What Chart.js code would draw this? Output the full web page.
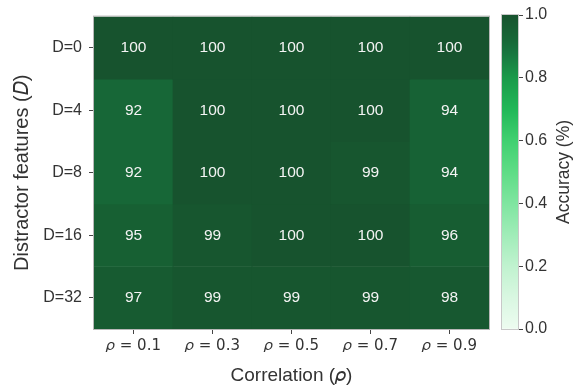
<!DOCTYPE html>
<html>
<head>
<meta charset="utf-8">
<script src="https://cdn.jsdelivr.net/npm/chart.js@4.4.1/dist/chart.umd.min.js"></script>
<style>
  html, body { margin: 0; padding: 0; background: #fff; }
  #wrap { position: relative; width: 582px; height: 389px; }
  #heat { position: absolute; left: 0; top: 0; }
  #bar { position: absolute; left: 495px; top: 0; }
</style>
</head>
<body>
<div id="wrap">
  <canvas id="heat" width="495" height="389"></canvas>
  <canvas id="bar" width="87" height="389"></canvas>
</div>
<script>
// Data
const rhoLabels = ['\u{1D70C} = 0.1', '\u{1D70C} = 0.3', '\u{1D70C} = 0.5', '\u{1D70C} = 0.7', '\u{1D70C} = 0.9'];
const dLabels = ['D=0', 'D=4', 'D=8', 'D=16', 'D=32'];
const accD0 = [100, 100, 100, 100, 100];
const accD4 = [92, 100, 100, 100, 94];
const accD8 = [92, 100, 100, 99, 94];
const accD16 = [95, 99, 100, 100, 96];
const accD32 = [97, 99, 99, 99, 98];
const rows = [accD0, accD4, accD8, accD16, accD32];
const cbarTicks = [0, 0.2, 0.4, 0.6, 0.8, 1.0];

// colour map (0..1)
const cmapPos = [0, 0.1, 0.2, 0.3, 0.4, 0.5, 0.6, 0.7, 0.8, 0.88, 0.92, 0.96, 1.0];
const cmapCol = ['#edfcf0', '#d9f7e1', '#c0f2cf', '#a0ecb8', '#7fe5a0', '#5fdc86', '#40d070',
  '#22b758', '#1a9a4a', '#187540', '#176737', '#175d32', '#17532e'];

const FONT = "'Liberation Sans', Arial, 'DejaVu Sans', sans-serif";
const MATH = "'DejaVu Sans', sans-serif";
const TXT = '#333333';

function hex2rgb(h) {
  return [parseInt(h.slice(1, 3), 16), parseInt(h.slice(3, 5), 16), parseInt(h.slice(5, 7), 16)];
}
function colorFor(v) {
  const t = Math.max(0, Math.min(1, v / 100));
  for (let i = 1; i < cmapPos.length; i++) {
    if (t <= cmapPos[i]) {
      const f = (t - cmapPos[i - 1]) / (cmapPos[i] - cmapPos[i - 1]);
      const a = hex2rgb(cmapCol[i - 1]), b = hex2rgb(cmapCol[i]);
      const c = a.map((x, k) => Math.round(x + (b[k] - x) * f));
      return `rgb(${c[0]},${c[1]},${c[2]})`;
    }
  }
  return cmapCol[cmapCol.length - 1];
}

// Cell numbers + outline
const cellText = {
  id: 'cellText',
  afterDatasetsDraw(chart) {
    const ctx = chart.ctx;
    const a = chart.chartArea;
    ctx.save();
    ctx.font = `15.5px ${FONT}`;
    ctx.fillStyle = '#f4f4f4';
    ctx.textAlign = 'center';
    ctx.textBaseline = 'middle';
    chart.data.datasets.forEach((ds, di) => {
      chart.getDatasetMeta(di).data.forEach((el, i) => {
        ctx.fillText(String(rows[di][i]), el.x, (el.y + el.base) / 2);
      });
    });
    ctx.strokeStyle = '#b8b8b8';
    ctx.lineWidth = 1;
    ctx.strokeRect(a.left - 0.5, a.top - 0.5, a.right - a.left + 1, a.bottom - a.top + 1);
    ctx.restore();
  }
};

new Chart(document.getElementById('heat'), {
  type: 'bar',
  data: {
    labels: rhoLabels,
    datasets: rows.map((vals, r) => ({
      label: dLabels[r],
      data: vals.map(() => [r, r + 1]),
      backgroundColor: vals.map(colorFor),
      borderWidth: 0,
      barPercentage: 1,
      categoryPercentage: 1,
      grouped: false
    }))
  },
  options: {
    responsive: false,
    animation: false,
    layout: { padding: { top: 15, right: 6, left: 0, bottom: 0 } },
    plugins: { legend: { display: false }, tooltip: { enabled: false } },
    scales: {
      x: {
        offset: true,
        grid: { offset: false, drawOnChartArea: false, drawTicks: true, tickLength: 5, color: '#444' },
        border: { display: false },
        ticks: { color: TXT, font: { family: MATH, size: 15 }, padding: 3, maxRotation: 0 },
        title: { display: true, text: 'Correlation (\u{1D70C})', color: TXT, font: { family: FONT, size: 19 }, padding: { top: 4, bottom: 2 } },
        afterFit(s) { s.height = 60; }
      },
      y: {
        type: 'linear',
        min: 0,
        max: 5,
        reverse: true,
        afterBuildTicks(s) { s.ticks = [0.5, 1.5, 2.5, 3.5, 4.5].map(v => ({ value: v })); },
        grid: { drawOnChartArea: false, drawTicks: true, tickLength: 5, color: '#444' },
        border: { display: false },
        ticks: { color: TXT, font: { family: FONT, size: 16 }, padding: 7, callback: (v, i) => dLabels[i] },
        title: { display: true, text: 'Distractor features (\u{1D437})', color: TXT, font: { family: FONT, size: 20 }, padding: { top: 10, bottom: 4 } },
        afterFit(s) { s.width = 94; }
      }
    }
  },
  plugins: [cellText]
});

// Colour bar
const cbarDeco = {
  id: 'cbarDeco',
  afterDatasetsDraw(chart) {
    const ctx = chart.ctx;
    const a = chart.chartArea;
    ctx.save();
    ctx.strokeStyle = '#c8c8c8';
    ctx.lineWidth = 1;
    ctx.strokeRect(a.left - 0.5, a.top - 0.5, a.right - a.left + 1, a.bottom - a.top + 1);
    ctx.translate(69, (a.top + a.bottom) / 2);
    ctx.rotate(-Math.PI / 2);
    ctx.font = `17.5px ${FONT}`;
    ctx.fillStyle = TXT;
    ctx.textAlign = 'center';
    ctx.textBaseline = 'middle';
    ctx.fillText('Accuracy (%)', 0, 0);
    ctx.restore();
  }
};

new Chart(document.getElementById('bar'), {
  type: 'bar',
  data: {
    labels: [''],
    datasets: [{
      data: [[0, 1]],
      borderWidth: 0,
      barPercentage: 1,
      categoryPercentage: 1,
      backgroundColor(c) {
        const ch = c.chart;
        const ys = ch.scales.y;
        if (!ys || !ch.chartArea) return cmapCol[6];
        const g = ch.ctx.createLinearGradient(0, ys.getPixelForValue(0), 0, ys.getPixelForValue(1));
        cmapPos.forEach((p, i) => g.addColorStop(p, cmapCol[i]));
        return g;
      }
    }]
  },
  options: {
    responsive: false,
    animation: false,
    layout: { padding: { top: 15, left: 7, right: 0, bottom: 60 } },
    plugins: { legend: { display: false }, tooltip: { enabled: false } },
    scales: {
      x: { display: false },
      y: {
        position: 'right',
        min: 0,
        max: 1,
        afterBuildTicks(s) { s.ticks = cbarTicks.map(v => ({ value: v })); },
        grid: { drawOnChartArea: false, drawTicks: true, tickLength: 5, color: '#444' },
        border: { display: false },
        ticks: { color: TXT, font: { family: FONT, size: 16 }, padding: 2, callback: v => v.toFixed(1) },
        afterFit(s) { s.width = 64; }
      }
    }
  },
  plugins: [cbarDeco]
});
</script>
</body>
</html>
